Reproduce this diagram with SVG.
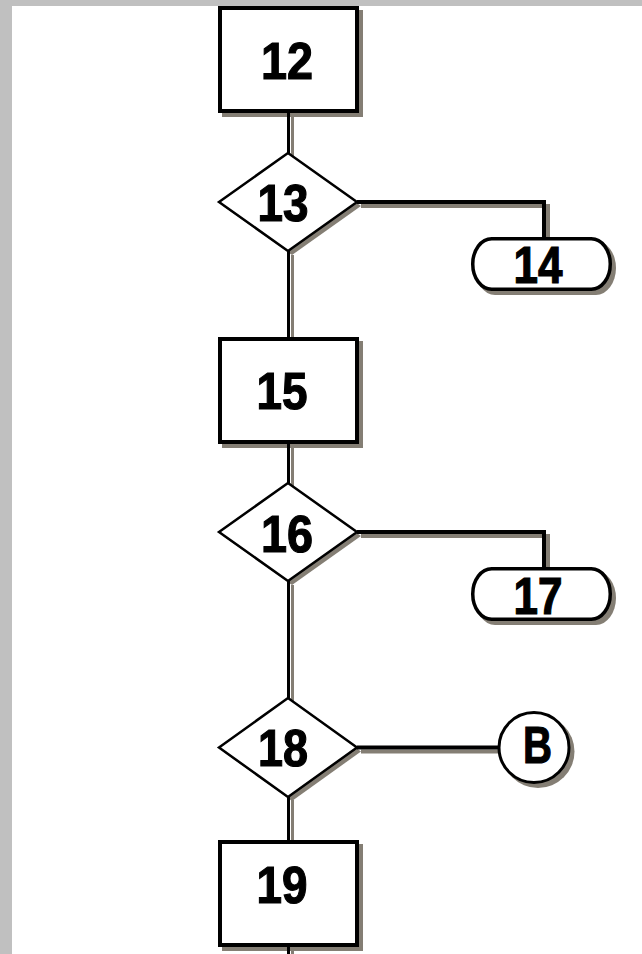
<svg xmlns="http://www.w3.org/2000/svg" width="642" height="954" viewBox="0 0 642 954">
  <style>
    .frame { fill: #c0c0c0; }
    .shadow { fill: #847e74; stroke: none; }
    .shadow-line { stroke: #847e74; fill: none; }
    .box { fill: #ffffff; stroke: #000000; stroke-width: 4; }
    .decision { fill: #ffffff; stroke: #000000; stroke-width: 2.5; stroke-linejoin: miter; }
    .terminal { fill: #ffffff; stroke: #000000; stroke-width: 3.5; }
    .connector-circle { fill: #ffffff; stroke: #000000; stroke-width: 3; }
    .link { stroke: #000000; fill: none; }
    .v { stroke-width: 3; }
    .h { stroke-width: 4; }
    .label { font-family: "Liberation Sans", Arial, sans-serif; font-weight: bold; font-size: 52px; fill: #000000; stroke: #000000; stroke-width: 1.2; text-anchor: middle; }
  </style>

  <!-- page background and window frame -->
  <rect x="0" y="0" width="642" height="954" fill="#ffffff"/>
  <rect class="frame" x="0" y="0" width="12" height="954"/>
  <rect class="frame" x="0" y="0" width="642" height="6"/>

  <!-- drop shadows of the connecting lines -->
  <g id="connector-shadows" transform="translate(4,4)">
    <line class="shadow-line v" x1="288.5" y1="113" x2="288.5" y2="153"/>
    <line class="shadow-line v" x1="288.5" y1="251" x2="288.5" y2="337"/>
    <line class="shadow-line v" x1="288.5" y1="444" x2="288.5" y2="483"/>
    <line class="shadow-line v" x1="288.5" y1="581" x2="288.5" y2="698"/>
    <line class="shadow-line v" x1="288.5" y1="796" x2="288.5" y2="840"/>
    <line class="shadow-line v" x1="288.5" y1="947" x2="288.5" y2="960"/>
    <polyline class="shadow-line h" points="357,202 544,202 544,239"/>
    <polyline class="shadow-line h" points="357,532 544,532 544,569"/>
    <line class="shadow-line h" x1="357" y1="747.5" x2="499" y2="747.5"/>
  </g>

  <!-- process boxes, decisions and terminals -->
  <g id="node-12">
    <rect class="shadow" x="222" y="10" width="141" height="107"/>
    <rect class="box" x="220" y="8" width="137" height="103"/>
    <text class="label" x="287" y="79" textLength="52" lengthAdjust="spacingAndGlyphs">12</text>
  </g>

  <g id="node-13">
    <polygon class="shadow" points="223,206 292,157 361,206 292,255"/>
    <polygon class="decision" points="219,202 288,153 357,202 288,251"/>
    <text class="label" x="283" y="221" textLength="51" lengthAdjust="spacingAndGlyphs">13</text>
  </g>

  <g id="node-14">
    <rect class="shadow" x="475" y="241" width="141" height="54" rx="20" ry="27"/>
    <rect class="terminal" x="472.75" y="238.75" width="137.5" height="50.5" rx="19" ry="25"/>
    <text class="label" x="538" y="283" font-size="50" textLength="49" lengthAdjust="spacingAndGlyphs">14</text>
  </g>

  <g id="node-15">
    <rect class="shadow" x="222" y="341" width="141" height="107"/>
    <rect class="box" x="220" y="339" width="137" height="103"/>
    <text class="label" x="282" y="409" textLength="51" lengthAdjust="spacingAndGlyphs">15</text>
  </g>

  <g id="node-16">
    <polygon class="shadow" points="223,536 292,487 361,536 292,585"/>
    <polygon class="decision" points="219,532 288,483 357,532 288,581"/>
    <text class="label" x="287" y="552" textLength="52" lengthAdjust="spacingAndGlyphs">16</text>
  </g>

  <g id="node-17">
    <rect class="shadow" x="475" y="571" width="141" height="54" rx="20" ry="27"/>
    <rect class="terminal" x="472.75" y="568.75" width="137.5" height="50.5" rx="19" ry="25"/>
    <text class="label" x="538" y="614" font-size="50" textLength="49" lengthAdjust="spacingAndGlyphs">17</text>
  </g>

  <g id="node-18">
    <polygon class="shadow" points="223,751.5 292,702 361,751.5 292,801"/>
    <polygon class="decision" points="219,747.5 288,698 357,747.5 288,797"/>
    <text class="label" x="283" y="766" textLength="50" lengthAdjust="spacingAndGlyphs">18</text>
  </g>

  <g id="node-B">
    <circle class="shadow" cx="538" cy="751.5" r="36.5"/>
    <circle class="connector-circle" cx="534" cy="747.5" r="35"/>
    <text class="label" x="537.5" y="763" font-size="48" textLength="29" lengthAdjust="spacingAndGlyphs">B</text>
  </g>

  <g id="node-19">
    <rect class="shadow" x="222" y="844" width="141" height="107"/>
    <rect class="box" x="220" y="842" width="137" height="103"/>
    <text class="label" x="282" y="903" textLength="51" lengthAdjust="spacingAndGlyphs">19</text>
  </g>

  <!-- connecting lines -->
  <g id="connectors">
    <line class="link v" x1="288.5" y1="111" x2="288.5" y2="153"/>
    <line class="link v" x1="288.5" y1="251" x2="288.5" y2="339"/>
    <line class="link v" x1="288.5" y1="442" x2="288.5" y2="483"/>
    <line class="link v" x1="288.5" y1="581" x2="288.5" y2="698"/>
    <line class="link v" x1="288.5" y1="797" x2="288.5" y2="842"/>
    <line class="link v" x1="288.5" y1="945" x2="288.5" y2="954"/>
    <polyline class="link h" points="357,202 544,202 544,239"/>
    <polyline class="link h" points="357,532 544,532 544,569"/>
    <line class="link h" x1="357" y1="747.5" x2="499" y2="747.5"/>
  </g>
</svg>
